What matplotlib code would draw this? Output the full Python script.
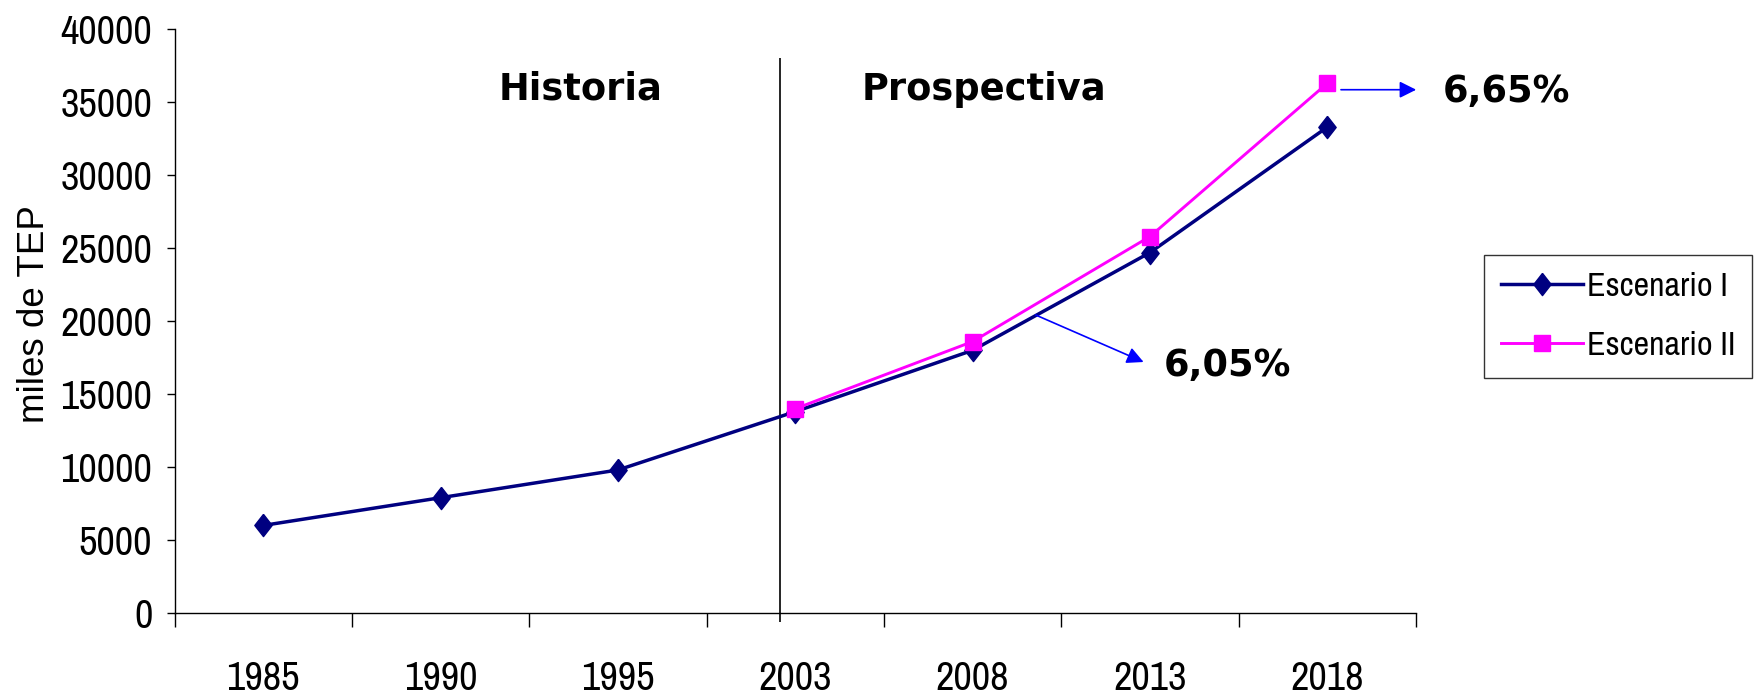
import matplotlib
matplotlib.use("Agg")
import matplotlib.pyplot as plt
from matplotlib.ticker import FixedLocator, NullFormatter, FixedFormatter
import matplotlib.font_manager as fm

years = ["1985", "1990", "1995", "2003", "2008", "2013", "2018"]
esc1 = [6000, 7900, 9800, 13800, 18000, 24700, 33300]
esc2_years = ["2003", "2008", "2013", "2018"]
esc2 = [14000, 18600, 25800, 36300]
yticks = [0, 5000, 10000, 15000, 20000, 25000, 30000, 35000, 40000]
label1 = "Escenario I"
label2 = "Escenario II"
rate1 = "6,05%"
rate2 = "6,65%"

narrow = ["Archivo Narrow", "Liberation Sans", "DejaVu Sans"]

fig = plt.figure(figsize=(17.57, 6.96), dpi=100)
ax = fig.add_axes([174.5/1757, 1-613/696, (1416-174.5)/1757, (613-29.3)/696])

x1 = [years.index(y) for y in years]
x2 = [years.index(y) for y in esc2_years]
diamond = [(0, 1), (0.78, 0), (0, -1), (-0.78, 0), (0, 1)]

ax.plot(x1, esc1, color="#000080", lw=2.5, marker=diamond, markersize=16,
        markerfacecolor="#000080", markeredgecolor="#000080", label=label1, zorder=3)
ax.plot(x2, esc2, color="#FF00FF", lw=2.1, marker="s", markersize=11,
        markerfacecolor="#FF00FF", markeredgecolor="#FF00FF", label=label2, zorder=4)

ax.vlines(2.915, -600, 38000, color="black", lw=1.2, clip_on=False, zorder=2)

ax.set_xlim(-0.5, 6.5)
ax.set_ylim(0, 40000)
ax.spines["top"].set_visible(False)
ax.spines["right"].set_visible(False)
ax.spines["left"].set_linewidth(1.0)
ax.spines["bottom"].set_linewidth(1.0)

ax.xaxis.set_major_locator(FixedLocator([i - 0.5 for i in range(len(years) + 1)]))
ax.xaxis.set_major_formatter(NullFormatter())
ax.xaxis.set_minor_locator(FixedLocator(list(range(len(years)))))
ax.xaxis.set_minor_formatter(FixedFormatter(years))
ax.tick_params(axis="x", which="major", length=10, width=1.0, direction="out")
ax.tick_params(axis="x", which="minor", length=0, pad=34, labelsize=29)
ax.set_yticks(yticks)
ax.set_yticklabels([str(v) for v in yticks])
ax.tick_params(axis="y", length=6, width=1.0, direction="out", pad=10, labelsize=29)
for lab in ax.get_xticklabels(minor=True) + ax.get_yticklabels():
    lab.set_family(narrow)

ax.set_ylabel("miles de TEP", fontsize=26.5, family=["Liberation Sans", "DejaVu Sans"])
ax.yaxis.label.set_va("baseline")
ax.yaxis.set_label_coords((44 - 174.5) / 1241.5, 0.512)

bold = dict(fontsize=26.5, fontweight="bold", family="DejaVu Sans", ha="center", va="center")
ax.text(1.789, 35900, "Historia", **bold)
ax.text(4.064, 35900, "Prospectiva", **bold)
ax.text(7.008, 35770, rate2, clip_on=False, **bold)
ax.text(5.437, 16930, rate1, **bold)

arrowprops = dict(arrowstyle="-|>", color="#0000FF", lw=1.2, mutation_scale=25, shrinkA=0, shrinkB=0)
ax.annotate("", xy=(6.501, 35860), xytext=(6.077, 35860), arrowprops=arrowprops, annotation_clip=False)
ax.annotate("", xy=(4.964, 17200), xytext=(4.356, 20420), arrowprops=arrowprops)

leg = fig.legend(loc="upper left", bbox_to_anchor=(1484/1757, 1-255/696),
                 prop=fm.FontProperties(family=narrow, size=24.5), frameon=True,
                 fancybox=False, edgecolor="black", handlelength=2.4, handletextpad=0.12,
                 borderpad=0.5, labelspacing=0.85, borderaxespad=0)
leg.get_frame().set_linewidth(1.0)

fig.savefig("out.png", dpi=100)
